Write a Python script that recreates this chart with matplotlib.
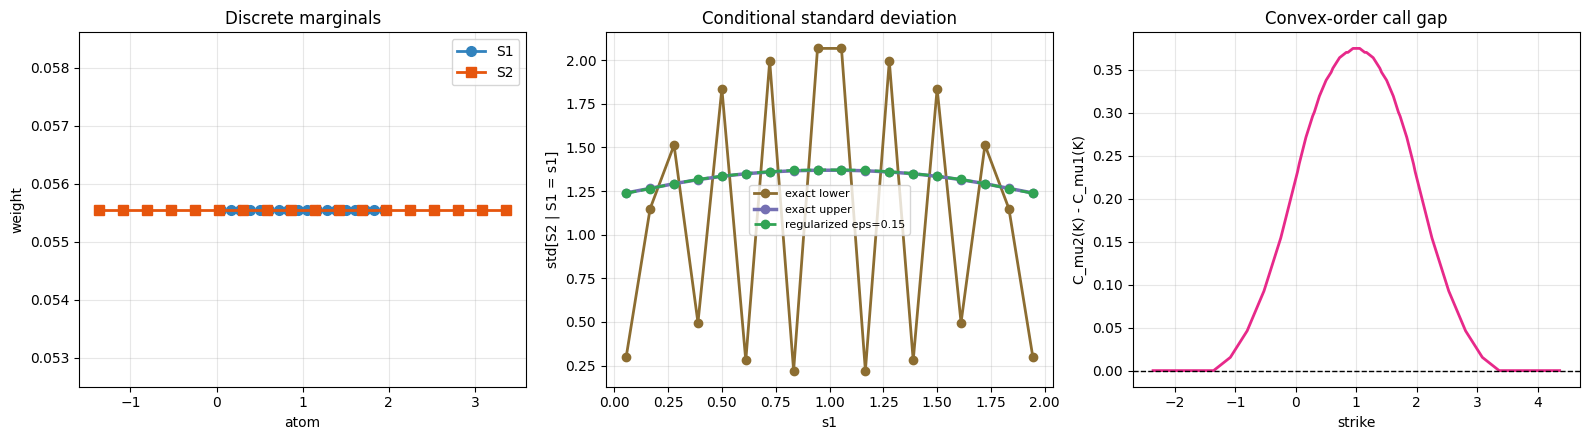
import numpy as np
import matplotlib
matplotlib.use("Agg")
import matplotlib.pyplot as plt

# ---- data ----
s1_atoms = [0.0556, 0.1667, 0.2778, 0.3889, 0.5000, 0.6111, 0.7222, 0.8333, 0.9444,
            1.0556, 1.1667, 1.2778, 1.3889, 1.5000, 1.6111, 1.7222, 1.8333, 1.9444]
s2_atoms = [-1.3600, -1.0824, -0.8047, -0.5271, -0.2494, 0.0282, 0.3059, 0.5835, 0.8612,
            1.1388, 1.4165, 1.6941, 1.9718, 2.2494, 2.5271, 2.8047, 3.0824, 3.3600]
s1_weights = [0.055556] * 18
s2_weights = [0.055556] * 18

std_lower = [0.300, 1.149, 1.513, 0.496, 1.836, 0.279, 1.994, 0.221, 2.067,
             2.067, 0.221, 1.994, 0.279, 1.836, 0.496, 1.513, 1.149, 0.300]
std_upper = [1.239, 1.265, 1.292, 1.315, 1.334, 1.349, 1.359, 1.366, 1.369,
             1.369, 1.366, 1.359, 1.349, 1.334, 1.315, 1.292, 1.265, 1.239]
std_reg = [1.237, 1.264, 1.292, 1.316, 1.335, 1.350, 1.361, 1.368, 1.371,
           1.371, 1.368, 1.361, 1.350, 1.335, 1.316, 1.292, 1.264, 1.237]

strikes = [-2.3600, -1.3600, -1.0824, -0.8047, -0.5271, -0.2494, 0.0282, 0.0556,
           0.1667, 0.2778, 0.3059, 0.3889, 0.5000, 0.5835, 0.6111, 0.7222, 0.8333,
           0.8612, 0.9444, 1.0000, 1.0556, 1.1388, 1.1667, 1.2778, 1.3889, 1.4165,
           1.5000, 1.6111, 1.6941, 1.7222, 1.8333, 1.9444, 1.9718, 2.2494, 2.5271,
           2.8047, 3.0824, 3.3600, 4.3600]
call_gap = [0.0, 0.0, 0.01542, 0.04627, 0.09255, 0.15425, 0.23137, 0.24048,
            0.27134, 0.29603, 0.30072, 0.31916, 0.33768, 0.34696, 0.35156, 0.36391,
            0.37008, 0.37008, 0.37471, 0.37471, 0.37471, 0.37008, 0.37008, 0.36391,
            0.35156, 0.34696, 0.33768, 0.31916, 0.30072, 0.29603, 0.27134, 0.24048,
            0.23137, 0.15425, 0.09255, 0.04627, 0.01542, 0.0, 0.0]

fig, axes = plt.subplots(1, 3, figsize=(15.9, 4.4), dpi=100)
fig.subplots_adjust(left=0.0497, right=0.9937, top=0.9266, bottom=0.1211, wspace=0.178)

ax = axes[0]
ax.plot(s1_atoms, s1_weights, marker="o", color="#3182bd", lw=2, ms=7, label="S1")
ax.plot(s2_atoms, s2_weights, marker="s", color="#e6550d", lw=2, ms=7, label="S2")
ax.set_title("Discrete marginals")
ax.set_xlabel("atom")
ax.set_ylabel("weight")
ax.grid(alpha=0.3)
ax.legend(loc="upper right")

ax = axes[1]
ax.plot(s1_atoms, std_lower, marker="o", color="#8c6d31", lw=2, ms=6, label="exact lower")
ax.plot(s1_atoms, std_upper, marker="o", color="#7570b3", lw=2.5, ms=6, label="exact upper")
ax.plot(s1_atoms, std_reg, marker="o", color="#31a354", lw=2, ls="--", ms=6,
        label="regularized eps=0.15")
ax.set_title("Conditional standard deviation")
ax.set_xlabel("s1")
ax.set_ylabel("std[S2 | S1 = s1]")
ax.grid(alpha=0.3)
ax.legend(loc="center", fontsize=8)

ax = axes[2]
ax.plot(strikes, call_gap, color="#e7298a", lw=2)
ax.axhline(0.0, color="black", ls="--", lw=1)
ax.set_title("Convex-order call gap")
ax.set_xlabel("strike")
ax.set_ylabel("C_mu2(K) - C_mu1(K)")
ax.grid(alpha=0.3)

fig.savefig("out.png")
